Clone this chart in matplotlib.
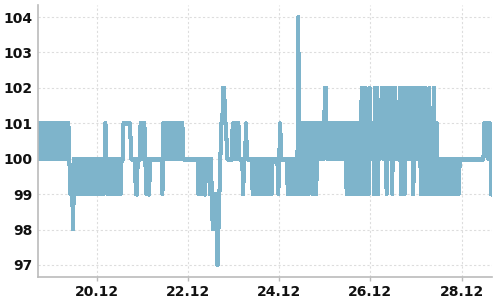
import matplotlib
matplotlib.use("Agg")
import matplotlib.pyplot as plt
import matplotlib.dates as mdates
from matplotlib.collections import LineCollection
import numpy as np
import pandas as pd

plt.rcParams["path.simplify"] = False

# value codes, one character per 30-minute sample starting 18.12 17:00
# '7'=97, '8'=98, '9'=99, '0'=100, '1'=101, '2'=102, '3'=103, '4'=104
start_time = "2015-12-18 17:00"
sample_step = "30min"
code_chunks = [
    "1010101010", "1010101010", "1010101010", "1010999809", "0909090909",
    "0909090909", "0909090909", "0109090909", "0909090900", "1111111100",
    "0009900010", "1010909900", "0000000000", "0910101010", "1010101010",
    "1010000000", "0000000009", "0909099000", "0909898987", "8901122110",
    "0000010101", "0100009001", "0000009090", "9090909090", "9090909000",
    "0009010000", "0009090909", "0909401919", "1919191019", "1919101010",
    "1022010101", "0101010101", "0101091919", "1919191919", "1291929192",
    "0101929291", "0120202920", "2029202010", "1292929202", "0202290120",
    "2029202929", "1929191291", "1909090909", "0909090909", "0909000000",
    "0000000000", "0000000000", "111101199",
]
code_values = {"7": 97, "8": 98, "9": 99, "0": 100, "1": 101,
               "2": 102, "3": 103, "4": 104}
y_ticks = [97, 98, 99, 100, 101, 102, 103, 104]
x_tick_dates = ["2015-12-20", "2015-12-22", "2015-12-24", "2015-12-26", "2015-12-28"]

codes = "".join(code_chunks)
values = np.array([code_values[c] for c in codes], dtype=float)
times = pd.date_range(start_time, periods=len(values), freq=sample_step)
tnum = mdates.date2num(times.to_pydatetime())

fig = plt.figure(figsize=(5, 3), dpi=100)
ax = fig.add_axes([0.076, 0.0767, 0.908, 0.9066])

pts = np.column_stack([tnum, values])
segs = np.stack([pts[:-1], pts[1:]], axis=1)
# no anti-aliasing so the densely overlapping strokes fill completely
lc = LineCollection(segs, colors="#7eb4cb", linewidths=2.2, capstyle="round",
                    joinstyle="round", antialiaseds=False, zorder=2)
ax.add_collection(lc)

ax.xaxis_date()
ax.set_xlim(tnum[0], tnum[-1])
ax.set_ylim(96.66, 104.34)
ax.set_yticks(y_ticks)
ax.set_xticks(mdates.date2num(pd.to_datetime(x_tick_dates).to_pydatetime()))
ax.xaxis.set_major_formatter(mdates.DateFormatter("%d.%m"))

ax.grid(True, color="#dddddd", linestyle=(0, (2, 2)), linewidth=0.8)
ax.set_axisbelow(True)

for s in ["top", "right"]:
    ax.spines[s].set_visible(False)
for s in ["left", "bottom"]:
    ax.spines[s].set_color("#bbbbbb")
    ax.spines[s].set_linewidth(1.2)

ax.tick_params(axis="y", length=0, pad=4, labelsize=10, labelcolor="#111111")
ax.tick_params(axis="x", length=3, width=1, color="#bbbbbb", pad=3,
               labelsize=10, labelcolor="#111111")
for lab in ax.get_xticklabels() + ax.get_yticklabels():
    lab.set_fontweight("bold")

fig.savefig("out.png", dpi=100)
